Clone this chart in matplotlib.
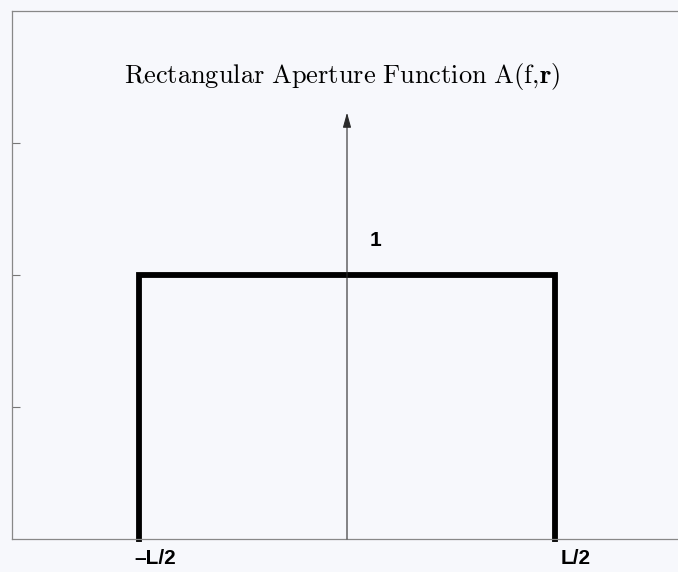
import matplotlib.pyplot as plt
import numpy as np

plt.rcParams['mathtext.fontset'] = 'cm'

# aperture of width L (L = 1), unit height
edges = [-0.5, 0.5]
height = 1.0
edge_labels = ['\u2013L/2', 'L/2']
height_label = '1'
title = r'$\mathrm{Rectangular\ Aperture\ Function\ A(f{,}}\mathbf{r}\mathrm{)}$'

bg = '#f7f8fc'
fig = plt.figure(figsize=(6.78, 5.72), dpi=100, facecolor=bg)
ax = fig.add_axes([12 / 678, 33 / 572, 670 / 678, 528 / 572], facecolor=bg)

ax.set_xlim(-0.805, 0.805)
ax.set_ylim(0, 2)

x = np.array([edges[0], edges[0], edges[1], edges[1]])
y = np.array([0, height, height, 0])
ax.plot(x, y, color='black', lw=4.2, solid_joinstyle='miter', clip_on=False)

# vertical axis arrow through the centre
ax.annotate('', xy=(0, 1.615), xytext=(0, 0),
            arrowprops=dict(arrowstyle='-|>,head_length=0.9,head_width=0.25',
                            color='#2a2a2a', lw=0.8, shrinkA=0, shrinkB=0))

ax.annotate(height_label, xy=(0, height), xytext=(29, 35),
            textcoords='offset pixels', ha='center', va='center',
            fontsize=15, fontweight='bold', family='Liberation Sans')
for xe, lab, dx in zip(edges, edge_labels, [16, 21]):
    ax.annotate(lab, xy=(xe, 0), xytext=(dx, -19),
                textcoords='offset pixels', ha='center', va='center',
                fontsize=15, fontweight='bold', family='Liberation Sans',
                annotation_clip=False)

ax.text(-0.012, 1.75, title, ha='center', va='center', fontsize=19)

ax.set_xticks([])
ax.set_yticks([0.5, 1.0, 1.5])
ax.set_yticklabels([])
ax.tick_params(axis='y', direction='in', length=6, width=0.8, color='#777777')
for s in ax.spines.values():
    s.set_color('#888888')
    s.set_linewidth(0.9)

fig.savefig('out.png', dpi=100, facecolor=bg)
